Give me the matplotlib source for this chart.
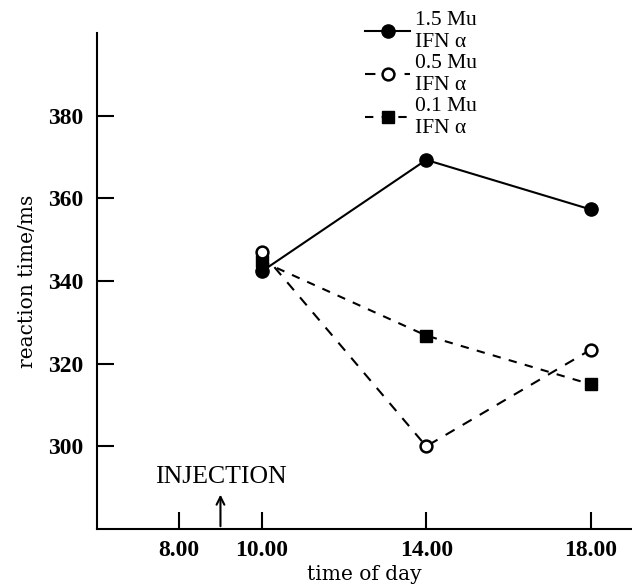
import matplotlib
matplotlib.use("Agg")
import matplotlib.pyplot as plt

# data
hours = [10, 14, 18]
rt_15 = [342.3, 369.3, 357.3]
rt_05 = [347.0, 300.0, 323.4]
rt_01 = [344.8, 326.8, 315.0]
labels = ["1.5 Mu\nIFN α", "0.5 Mu\nIFN α", "0.1 Mu\nIFN α"]
xticks = [8, 10, 14, 18]
xticklabels = ["8.00", "10.00", "14.00", "18.00"]
yticks = [300, 320, 340, 360, 380]
injection_time = 9

plt.rcParams['font.family'] = ['DejaVu Serif']

fig = plt.figure(figsize=(6.32, 5.87), dpi=100)
ax = fig.add_axes([97/632, 58/587, 1 - 97/632, (529-33)/587])

ax.plot(hours, rt_15, '-', color='black', lw=1.5, marker='o', ms=9.5,
        mfc='black', mec='black', label=labels[0], zorder=3)
ax.plot(hours, rt_05, '--', color='black', lw=1.5, marker='o', ms=8.5,
        mfc='white', mec='black', mew=1.8, dashes=(5, 4.5), label=labels[1], zorder=4)
ax.plot(hours, rt_01, '--', color='black', lw=1.5, marker='s', ms=8,
        mfc='black', mec='black', dashes=(4, 4), label=labels[2], zorder=3)

ax.set_xlim(6, 19)
ax.set_ylim(280, 400)
ax.set_xticks(xticks)
ax.set_xticklabels(xticklabels)
ax.set_yticks(yticks)
for lab in ax.get_xticklabels() + ax.get_yticklabels():
    lab.set_fontweight('bold')
    lab.set_fontsize(17)
    lab.set_family(['Liberation Serif', 'DejaVu Serif'])
ax.tick_params(axis='both', direction='in', length=12, width=1.5, pad=8)
ax.tick_params(axis='y', pad=10)

for s in ['top', 'right']:
    ax.spines[s].set_visible(False)
for s in ['left', 'bottom']:
    ax.spines[s].set_linewidth(1.5)

ax.set_xlabel("time of day", fontsize=14.5, labelpad=3)
ax.set_ylabel("reaction time/ms", fontsize=14.5, labelpad=8)

ax.annotate("", xy=(injection_time, 289), xytext=(injection_time, 280),
            arrowprops=dict(arrowstyle='->', lw=1.5, color='black', mutation_scale=14))
ax.text(injection_time, 292.5, "INJECTION", ha='center', va='center', fontsize=18.5,
        family=['Liberation Serif', 'DejaVu Serif'])

leg = ax.legend(loc='upper left', bbox_to_anchor=(352/632, 1.0 + 2/587),
                bbox_transform=fig.transFigure, frameon=False,
                prop={'family': ['Liberation Serif', 'DejaVu Serif'], 'size': 15.5},
                handlelength=2.1, handletextpad=0.23, labelspacing=0.1,
                borderpad=0.1)

fig.savefig("out.png", dpi=100)
